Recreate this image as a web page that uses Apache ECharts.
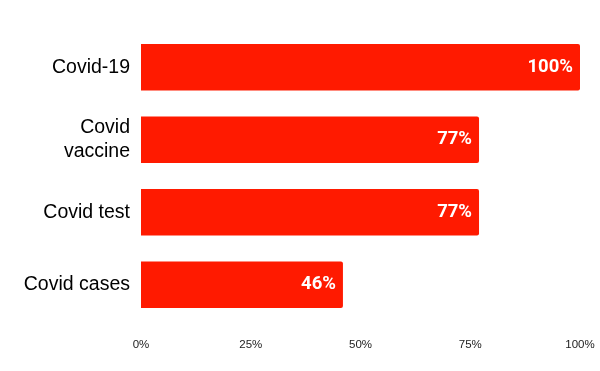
<!DOCTYPE html>
<html><head><meta charset="utf-8">
<script src="https://cdn.jsdelivr.net/npm/echarts@6/dist/echarts.min.js"></script>
<style>html,body{margin:0;padding:0;background:#fff}#c{width:600px;height:371px}</style>
</head><body><div id="c"></div>
<script>
const categories = ["Covid-19", "Covid\nvaccine", "Covid test", "Covid cases"];
const values = [100, 77, 77, 46];
const tickLabels = ["0%", "25%", "50%", "75%", "100%"];

const chart = echarts.init(document.getElementById('c'), null, {renderer: 'canvas'});
chart.setOption({
  animation: false,
  grid: {left: 141, right: 20, top: 31, bottom: 50, containLabel: false},
  xAxis: {
    type: 'value', min: 0, max: 100, interval: 25,
    splitLine: {show: false}, axisLine: {show: false}, axisTick: {show: false},
    axisLabel: {
      color: '#222', fontSize: 11.5, fontFamily: 'Liberation Sans, Arial', margin: 18,
      formatter: function (v) { return tickLabels[Math.round(v / 25)]; }
    }
  },
  yAxis: {
    type: 'category', data: categories, inverse: true,
    axisLine: {show: false}, axisTick: {show: false},
    axisLabel: {color: '#000', fontSize: 19.5, fontFamily: 'Liberation Sans, Arial', margin: 11, lineHeight: 24, align: 'right'}
  },
  series: [{
    type: 'bar', data: values, barCategoryGap: '36%',
    itemStyle: {color: '#ff1a00', borderRadius: [0, 2, 2, 0]},
    label: {
      show: true, position: 'insideRight', distance: 7, color: '#fff',
      fontSize: 18.5, fontWeight: 'bold', fontFamily: 'Roboto, Open Sans, sans-serif',
      formatter: '{c}%'
    }
  }]
});
</script></body></html>
